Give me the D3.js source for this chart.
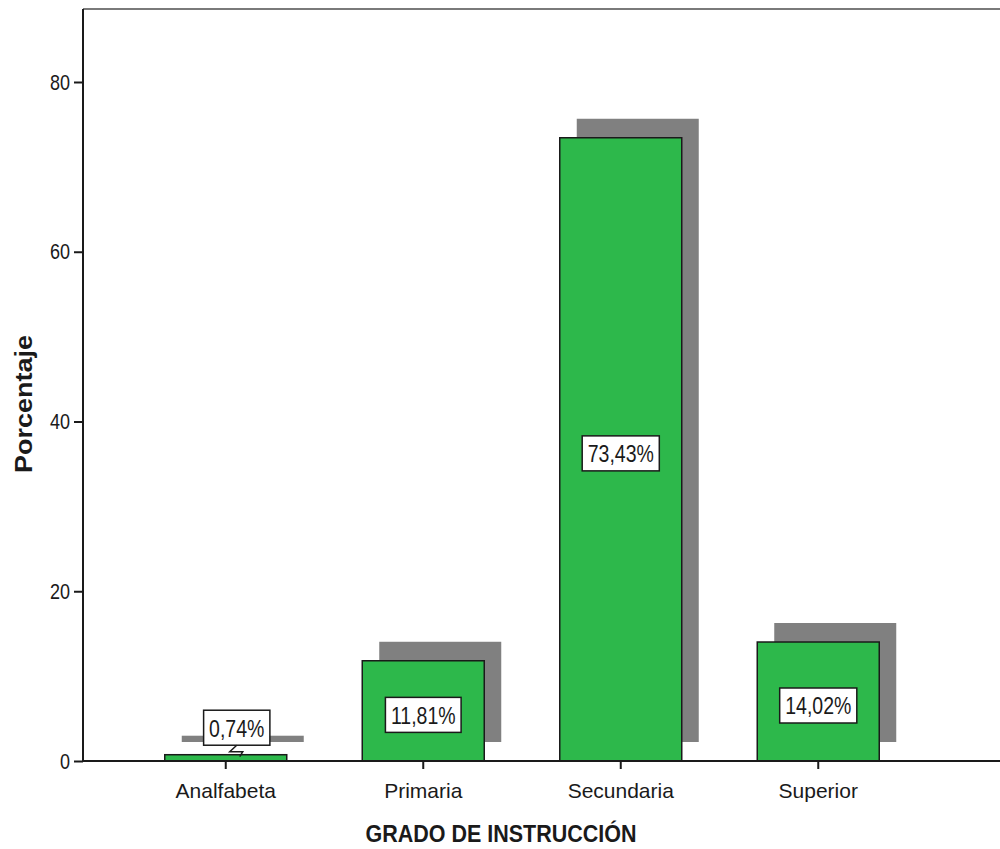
<!DOCTYPE html>
<html>
<head>
<meta charset="utf-8">
<script src="https://cdn.jsdelivr.net/npm/d3@7"></script>
<style>
  html, body { margin: 0; padding: 0; background: #fff; }
  svg { display: block; }
  text { font-family: "Liberation Sans", Arial, sans-serif; fill: #1a1a1a; }
</style>
</head>
<body>
<svg id="chart" width="1000" height="849"></svg>
<script>
// Grado de instrucción: porcentaje por categoría
const categories = ["Analfabeta", "Primaria", "Secundaria", "Superior"];
const percentages = [0.74, 11.81, 73.43, 14.02];
const valueLabels = ["0,74%", "11,81%", "73,43%", "14,02%"];
const yTicks = [0, 20, 40, 60, 80];

const svg = d3.select("#chart");
const W = 1000, H = 849;
const plotLeft = 83, plotTop = 9, plotBottom = 761;

const x = d3.scaleBand().domain(categories).range([127, 917]).padding(0);
const y = d3.scaleLinear().domain([0, 88.6]).range([plotBottom, plotTop]);

const barW = 122;
const shadowDx = 17, shadowDy = -19;

// frame: top border
svg.append("line")
  .attr("x1", plotLeft).attr("x2", W).attr("y1", plotTop).attr("y2", plotTop)
  .attr("stroke", "#7a7a7a").attr("stroke-width", 2);

// drop shadows behind the bars
svg.append("g").selectAll("rect").data(categories).join("rect")
  .attr("x", (d) => x(d) + x.bandwidth() / 2 - barW / 2 + shadowDx)
  .attr("y", (d, i) => y(percentages[i]) + shadowDy)
  .attr("width", barW)
  .attr("height", (d, i) => y(0) - y(percentages[i]))
  .attr("fill", "#808080");

// bars
svg.append("g").selectAll("rect").data(categories).join("rect")
  .attr("x", (d) => x(d) + x.bandwidth() / 2 - barW / 2)
  .attr("y", (d, i) => y(percentages[i]))
  .attr("width", barW)
  .attr("height", (d, i) => y(0) - y(percentages[i]))
  .attr("fill", "#2db84b")
  .attr("stroke", "#1a1a1a").attr("stroke-width", 1.5);

// y axis
const yAxis = d3.axisLeft(y).tickValues(yTicks).tickSize(9).tickPadding(4).tickFormat(d3.format("d"));
const gy = svg.append("g").attr("transform", `translate(${plotLeft},0)`).call(yAxis);
gy.select(".domain").attr("d", `M0,${plotTop}V${plotBottom}`).attr("stroke", "#1a1a1a").attr("stroke-width", 2);
gy.selectAll(".tick line").attr("stroke", "#1a1a1a").attr("stroke-width", 2);
gy.selectAll(".tick text")
  .attr("font-size", 18).attr("font-family", null).attr("fill", "#1a1a1a")
  .attr("transform", "scale(1,1.22)");

// x axis
const xAxis = d3.axisBottom(x).tickSize(8).tickPadding(14);
const gx = svg.append("g").attr("transform", `translate(0,${plotBottom})`).call(xAxis);
gx.select(".domain").attr("d", `M${plotLeft},0H${W}`).attr("stroke", "#1a1a1a").attr("stroke-width", 2);
gx.selectAll(".tick line").attr("stroke", "#1a1a1a").attr("stroke-width", 2);
gx.selectAll(".tick text").attr("font-size", 21).attr("font-family", null).attr("fill", "#1a1a1a");

// value labels in boxed callouts
const labels = svg.append("g");
categories.forEach((c, i) => {
  const cx = x(c) + x.bandwidth() / 2;
  const barTop = y(percentages[i]);
  const small = percentages[i] < 3;
  const lx = small ? cx + 11 : cx;
  const cy = small ? barTop - 27 : (barTop + y(0)) / 2 + 4;
  const g = labels.append("g");
  const t = g.append("text")
    .attr("transform", `translate(${lx},${cy}) scale(1,1.25)`)
    .attr("text-anchor", "middle")
    .attr("dy", "0.36em")
    .attr("font-size", 19.5)
    .text(valueLabels[i]);
  const w = t.node().getBBox().width;
  g.insert("rect", "text")
    .attr("x", lx - w / 2 - 5.5).attr("y", cy - 17.5)
    .attr("width", w + 11).attr("height", 35)
    .attr("fill", "#fff").attr("stroke", "#1a1a1a").attr("stroke-width", 1.5);
  if (small) {
    g.append("path")
      .attr("d", `M${lx},${cy + 17.5}L${lx - 7},${cy + 24}L${lx + 6},${cy + 24}L${lx + 3},${barTop + 2}`)
      .attr("fill", "none").attr("stroke", "#1a1a1a").attr("stroke-width", 1.5);
  }
});

// axis titles
svg.append("text")
  .attr("transform", "translate(501,842) scale(1,1.1)")
  .attr("text-anchor", "middle")
  .attr("font-size", 21.5).attr("font-weight", "bold")
  .text("GRADO DE INSTRUCCIÓN");

svg.append("text")
  .attr("transform", "translate(32,404) rotate(-90)")
  .attr("text-anchor", "middle")
  .attr("font-size", 24).attr("font-weight", "bold")
  .attr("textLength", 138).attr("lengthAdjust", "spacingAndGlyphs")
  .text("Porcentaje");
</script>
</body>
</html>
